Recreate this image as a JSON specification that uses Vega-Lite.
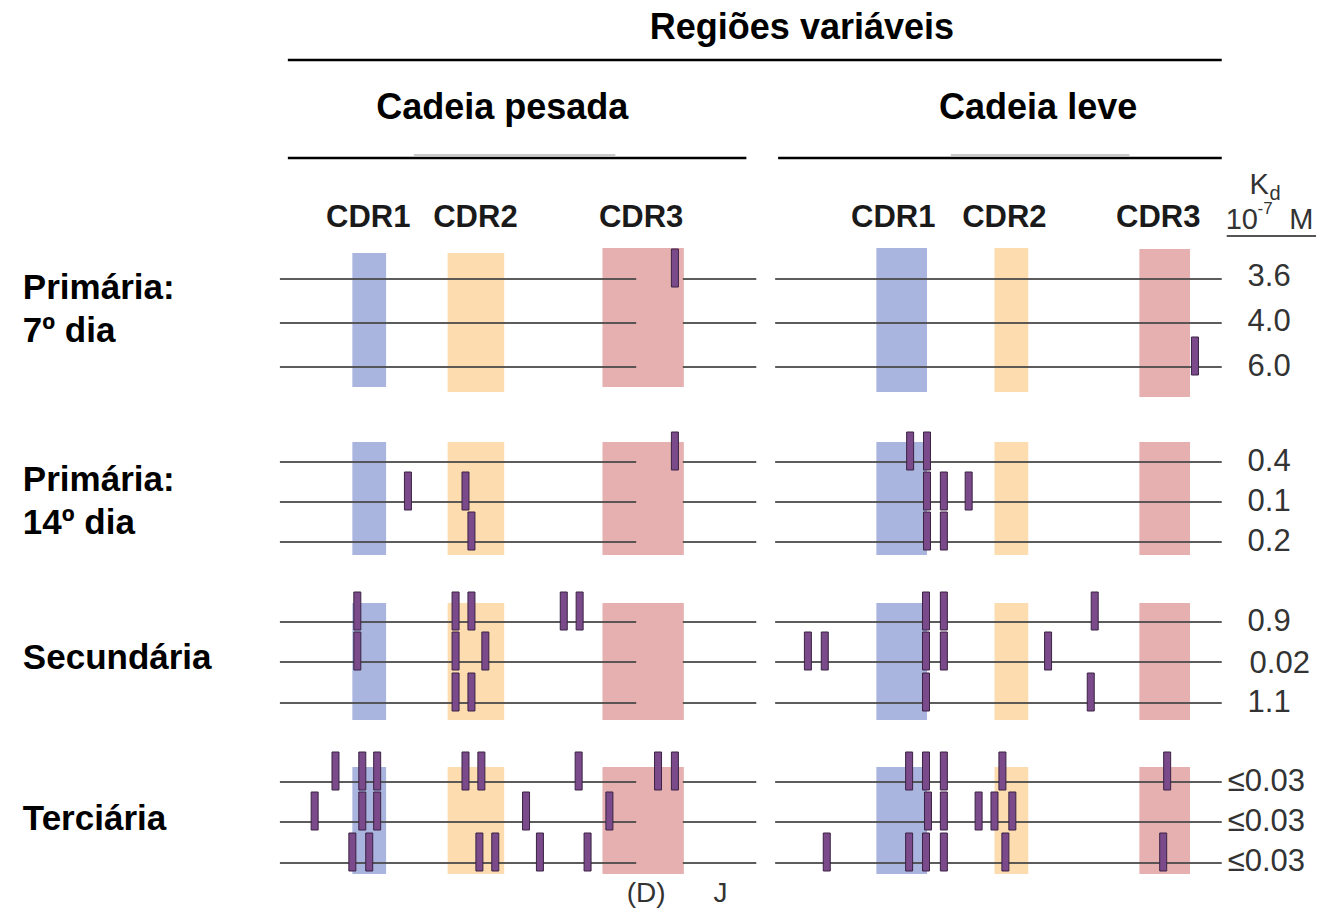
{
  "$schema": "https://vega.github.io/schema/vega-lite/v6.json",
  "width": 1325,
  "height": 910,
  "padding": 0,
  "autosize": {"type": "none"},
  "background": "white",
  "config": {"view": {"stroke": null}},
  "datasets": {
    "regions": [
      {"chain": "pesada", "region": "CDR1", "x1": 350, "x2": 384, "y1": 253, "y2": 387},
      {"chain": "pesada", "region": "CDR2", "x1": 446, "x2": 503, "y1": 253, "y2": 392},
      {"chain": "pesada", "region": "CDR3", "x1": 602, "x2": 684, "y1": 248, "y2": 387},
      {"chain": "leve", "region": "CDR1", "x1": 878, "x2": 929, "y1": 248, "y2": 392},
      {"chain": "leve", "region": "CDR2", "x1": 997, "x2": 1031, "y1": 248, "y2": 392},
      {"chain": "leve", "region": "CDR3", "x1": 1143, "x2": 1194, "y1": 249, "y2": 397},
      {"chain": "pesada", "region": "CDR1", "x1": 350, "x2": 384, "y1": 442, "y2": 555},
      {"chain": "pesada", "region": "CDR2", "x1": 446, "x2": 503, "y1": 442, "y2": 555},
      {"chain": "pesada", "region": "CDR3", "x1": 602, "x2": 684, "y1": 442, "y2": 555},
      {"chain": "leve", "region": "CDR1", "x1": 878, "x2": 929, "y1": 442, "y2": 555},
      {"chain": "leve", "region": "CDR2", "x1": 997, "x2": 1031, "y1": 442, "y2": 555},
      {"chain": "leve", "region": "CDR3", "x1": 1143, "x2": 1194, "y1": 442, "y2": 555},
      {"chain": "pesada", "region": "CDR1", "x1": 350, "x2": 384, "y1": 603, "y2": 720},
      {"chain": "pesada", "region": "CDR2", "x1": 446, "x2": 503, "y1": 603, "y2": 720},
      {"chain": "pesada", "region": "CDR3", "x1": 602, "x2": 684, "y1": 603, "y2": 720},
      {"chain": "leve", "region": "CDR1", "x1": 878, "x2": 929, "y1": 603, "y2": 720},
      {"chain": "leve", "region": "CDR2", "x1": 997, "x2": 1031, "y1": 603, "y2": 720},
      {"chain": "leve", "region": "CDR3", "x1": 1143, "x2": 1194, "y1": 603, "y2": 720},
      {"chain": "pesada", "region": "CDR1", "x1": 350, "x2": 384, "y1": 767, "y2": 874},
      {"chain": "pesada", "region": "CDR2", "x1": 446, "x2": 503, "y1": 767, "y2": 874},
      {"chain": "pesada", "region": "CDR3", "x1": 602, "x2": 684, "y1": 767, "y2": 874},
      {"chain": "leve", "region": "CDR1", "x1": 878, "x2": 929, "y1": 767, "y2": 874},
      {"chain": "leve", "region": "CDR2", "x1": 997, "x2": 1031, "y1": 767, "y2": 874},
      {"chain": "leve", "region": "CDR3", "x1": 1143, "x2": 1194, "y1": 767, "y2": 874}
    ],
    "seqlines": [
      {"x1": 277, "x2": 636, "y": 279}, {"x1": 683, "x2": 757, "y": 279}, {"x1": 776, "x2": 1226, "y": 279},
      {"x1": 277, "x2": 636, "y": 323}, {"x1": 683, "x2": 757, "y": 323}, {"x1": 776, "x2": 1226, "y": 323},
      {"x1": 277, "x2": 636, "y": 367}, {"x1": 683, "x2": 757, "y": 367}, {"x1": 776, "x2": 1226, "y": 367},
      {"x1": 277, "x2": 636, "y": 462}, {"x1": 683, "x2": 757, "y": 462}, {"x1": 776, "x2": 1226, "y": 462},
      {"x1": 277, "x2": 636, "y": 502}, {"x1": 683, "x2": 757, "y": 502}, {"x1": 776, "x2": 1226, "y": 502},
      {"x1": 277, "x2": 636, "y": 542}, {"x1": 683, "x2": 757, "y": 542}, {"x1": 776, "x2": 1226, "y": 542},
      {"x1": 277, "x2": 636, "y": 622}, {"x1": 683, "x2": 757, "y": 622}, {"x1": 776, "x2": 1226, "y": 622},
      {"x1": 277, "x2": 636, "y": 662}, {"x1": 683, "x2": 757, "y": 662}, {"x1": 776, "x2": 1226, "y": 662},
      {"x1": 277, "x2": 636, "y": 703}, {"x1": 683, "x2": 757, "y": 703}, {"x1": 776, "x2": 1226, "y": 703},
      {"x1": 277, "x2": 636, "y": 782}, {"x1": 683, "x2": 757, "y": 782}, {"x1": 776, "x2": 1226, "y": 782},
      {"x1": 277, "x2": 636, "y": 822}, {"x1": 683, "x2": 757, "y": 822}, {"x1": 776, "x2": 1226, "y": 822},
      {"x1": 277, "x2": 636, "y": 863}, {"x1": 683, "x2": 757, "y": 863}, {"x1": 776, "x2": 1226, "y": 863}
    ],
    "mutations": [
      {"pos": 675, "top": 249, "bottom": 287},
      {"pos": 675, "top": 432, "bottom": 470},
      {"pos": 406, "top": 472, "bottom": 510},
      {"pos": 464, "top": 472, "bottom": 510},
      {"pos": 470, "top": 512, "bottom": 550},
      {"pos": 355, "top": 592, "bottom": 630},
      {"pos": 454, "top": 592, "bottom": 630},
      {"pos": 470, "top": 592, "bottom": 630},
      {"pos": 563, "top": 592, "bottom": 630},
      {"pos": 579, "top": 592, "bottom": 630},
      {"pos": 355, "top": 632, "bottom": 670},
      {"pos": 454, "top": 632, "bottom": 670},
      {"pos": 484, "top": 632, "bottom": 670},
      {"pos": 454, "top": 673, "bottom": 711},
      {"pos": 470, "top": 673, "bottom": 711},
      {"pos": 333, "top": 752, "bottom": 790},
      {"pos": 360, "top": 752, "bottom": 790},
      {"pos": 375, "top": 752, "bottom": 790},
      {"pos": 464, "top": 752, "bottom": 790},
      {"pos": 480, "top": 752, "bottom": 790},
      {"pos": 578, "top": 752, "bottom": 790},
      {"pos": 658, "top": 752, "bottom": 790},
      {"pos": 675, "top": 752, "bottom": 790},
      {"pos": 312, "top": 792, "bottom": 830},
      {"pos": 360, "top": 792, "bottom": 830},
      {"pos": 375, "top": 792, "bottom": 830},
      {"pos": 525, "top": 792, "bottom": 830},
      {"pos": 609, "top": 792, "bottom": 830},
      {"pos": 350, "top": 833, "bottom": 871},
      {"pos": 367, "top": 833, "bottom": 871},
      {"pos": 478, "top": 833, "bottom": 871},
      {"pos": 494, "top": 833, "bottom": 871},
      {"pos": 539, "top": 833, "bottom": 871},
      {"pos": 587, "top": 833, "bottom": 871},
      {"pos": 1199, "top": 337, "bottom": 375},
      {"pos": 912, "top": 432, "bottom": 470},
      {"pos": 929, "top": 432, "bottom": 470},
      {"pos": 929, "top": 472, "bottom": 510},
      {"pos": 946, "top": 472, "bottom": 510},
      {"pos": 971, "top": 472, "bottom": 510},
      {"pos": 929, "top": 512, "bottom": 550},
      {"pos": 946, "top": 512, "bottom": 550},
      {"pos": 928, "top": 592, "bottom": 630},
      {"pos": 946, "top": 592, "bottom": 630},
      {"pos": 1098, "top": 592, "bottom": 630},
      {"pos": 809, "top": 632, "bottom": 670},
      {"pos": 826, "top": 632, "bottom": 670},
      {"pos": 928, "top": 632, "bottom": 670},
      {"pos": 946, "top": 632, "bottom": 670},
      {"pos": 1051, "top": 632, "bottom": 670},
      {"pos": 928, "top": 673, "bottom": 711},
      {"pos": 1094, "top": 673, "bottom": 711},
      {"pos": 911, "top": 752, "bottom": 790},
      {"pos": 928, "top": 752, "bottom": 790},
      {"pos": 946, "top": 752, "bottom": 790},
      {"pos": 1005, "top": 752, "bottom": 790},
      {"pos": 1171, "top": 752, "bottom": 790},
      {"pos": 930, "top": 792, "bottom": 830},
      {"pos": 946, "top": 792, "bottom": 830},
      {"pos": 981, "top": 792, "bottom": 830},
      {"pos": 997, "top": 792, "bottom": 830},
      {"pos": 1015, "top": 792, "bottom": 830},
      {"pos": 828, "top": 833, "bottom": 871},
      {"pos": 911, "top": 833, "bottom": 871},
      {"pos": 928, "top": 833, "bottom": 871},
      {"pos": 946, "top": 833, "bottom": 871},
      {"pos": 1008, "top": 833, "bottom": 871},
      {"pos": 1167, "top": 833, "bottom": 871}
    ],
    "headerlines": [
      {"x1": 285, "x2": 1226, "y": 60},
      {"x1": 285, "x2": 747, "y": 158},
      {"x1": 779, "x2": 1226, "y": 158}
    ],
    "faintlines": [
      {"x1": 412, "x2": 615, "y": 155},
      {"x1": 953, "x2": 1133, "y": 155}
    ],
    "kdline": [
      {"x1": 1231, "x2": 1321, "y": 236}
    ],
    "titles": [
      {"label": "Regiões variáveis", "x": 803, "y": 39},
      {"label": "Cadeia pesada", "x": 501, "y": 119},
      {"label": "Cadeia leve", "x": 1041, "y": 119}
    ],
    "rowlabels": [
      {"label": "Primária:", "x": 18, "y": 299},
      {"label": "7º dia", "x": 18, "y": 342},
      {"label": "Primária:", "x": 18, "y": 491},
      {"label": "14º dia", "x": 18, "y": 534},
      {"label": "Secundária", "x": 18, "y": 669},
      {"label": "Terciária", "x": 18, "y": 830}
    ],
    "cdrlabels": [
      {"label": "CDR1", "x": 366, "y": 227},
      {"label": "CDR2", "x": 474, "y": 227},
      {"label": "CDR3", "x": 641, "y": 227},
      {"label": "CDR1", "x": 895, "y": 227},
      {"label": "CDR2", "x": 1007, "y": 227},
      {"label": "CDR3", "x": 1162, "y": 227}
    ],
    "kd": [
      {"label": "3.6", "x": 1252, "y": 277},
      {"label": "4.0", "x": 1252, "y": 322},
      {"label": "6.0", "x": 1252, "y": 367},
      {"label": "0.4", "x": 1252, "y": 462},
      {"label": "0.1", "x": 1252, "y": 502},
      {"label": "0.2", "x": 1252, "y": 542},
      {"label": "0.9", "x": 1252, "y": 622},
      {"label": "0.02", "x": 1254, "y": 664},
      {"label": "1.1", "x": 1252, "y": 703},
      {"label": "≤0.03", "x": 1232, "y": 782},
      {"label": "≤0.03", "x": 1232, "y": 822},
      {"label": "≤0.03", "x": 1232, "y": 862}
    ],
    "kdhead": [
      {"label": "K", "x": 1254, "y": 194},
      {"label": "10", "x": 1230, "y": 229},
      {"label": "M", "x": 1294, "y": 229}
    ],
    "kdsub": [
      {"label": "d", "x": 1274, "y": 200}
    ],
    "kdsup": [
      {"label": "-7", "x": 1262, "y": 214}
    ],
    "segments": [
      {"label": "(D)", "x": 646, "y": 902},
      {"label": "J", "x": 721, "y": 902}
    ]
  },
  "layer": [
    {
      "data": {"name": "regions"},
      "mark": {"type": "rect"},
      "encoding": {
        "x": {"field": "x1", "type": "quantitative", "scale": {"domain": [0, 1325], "nice": false, "zero": false}, "axis": null},
        "x2": {"field": "x2"},
        "y": {"field": "y1", "type": "quantitative", "scale": {"domain": [0, 910], "nice": false, "zero": false, "reverse": true}, "axis": null},
        "y2": {"field": "y2"},
        "color": {"field": "region", "type": "nominal", "scale": {"domain": ["CDR1", "CDR2", "CDR3"], "range": ["#a9b5df", "#fddcb0", "#e6b0b0"]}, "legend": null}
      }
    },
    {
      "data": {"name": "seqlines"},
      "mark": {"type": "rule", "color": "#4a4a4a", "strokeWidth": 2, "opacity": 0.9},
      "encoding": {
        "x": {"field": "x1", "type": "quantitative", "axis": null},
        "x2": {"field": "x2"},
        "y": {"field": "y", "type": "quantitative", "axis": null}
      }
    },
    {
      "data": {"name": "headerlines"},
      "mark": {"type": "rule", "color": "#000000", "strokeWidth": 2.5},
      "encoding": {
        "x": {"field": "x1", "type": "quantitative", "axis": null},
        "x2": {"field": "x2"},
        "y": {"field": "y", "type": "quantitative", "axis": null}
      }
    },
    {
      "data": {"name": "faintlines"},
      "mark": {"type": "rule", "color": "#b8b8b8", "strokeWidth": 1.5},
      "encoding": {
        "x": {"field": "x1", "type": "quantitative", "axis": null},
        "x2": {"field": "x2"},
        "y": {"field": "y", "type": "quantitative", "axis": null}
      }
    },
    {
      "data": {"name": "kdline"},
      "mark": {"type": "rule", "color": "#555555", "strokeWidth": 2},
      "encoding": {
        "x": {"field": "x1", "type": "quantitative", "axis": null},
        "x2": {"field": "x2"},
        "y": {"field": "y", "type": "quantitative", "axis": null}
      }
    },
    {
      "data": {"name": "mutations"},
      "mark": {"type": "bar", "width": 7, "fill": "#7b4a8b", "stroke": "#3a2344", "strokeWidth": 1, "orient": "vertical"},
      "encoding": {
        "x": {"field": "pos", "type": "quantitative", "axis": null},
        "y": {"field": "top", "type": "quantitative", "axis": null},
        "y2": {"field": "bottom"}
      }
    },
    {
      "data": {"name": "titles"},
      "mark": {"type": "text", "font": "Liberation Sans", "fontWeight": "bold", "fontSize": 36, "align": "center", "baseline": "alphabetic", "color": "#000000"},
      "encoding": {
        "x": {"field": "x", "type": "quantitative", "axis": null},
        "y": {"field": "y", "type": "quantitative", "axis": null},
        "text": {"field": "label"}
      }
    },
    {
      "data": {"name": "rowlabels"},
      "mark": {"type": "text", "font": "Liberation Sans", "fontWeight": "bold", "fontSize": 35, "align": "left", "baseline": "alphabetic", "color": "#000000"},
      "encoding": {
        "x": {"field": "x", "type": "quantitative", "axis": null},
        "y": {"field": "y", "type": "quantitative", "axis": null},
        "text": {"field": "label"}
      }
    },
    {
      "data": {"name": "cdrlabels"},
      "mark": {"type": "text", "font": "Liberation Sans", "fontWeight": "bold", "fontSize": 31, "align": "center", "baseline": "alphabetic", "color": "#1a1a1a"},
      "encoding": {
        "x": {"field": "x", "type": "quantitative", "axis": null},
        "y": {"field": "y", "type": "quantitative", "axis": null},
        "text": {"field": "label"}
      }
    },
    {
      "data": {"name": "kd"},
      "mark": {"type": "text", "font": "Liberation Sans", "fontSize": 31, "align": "left", "baseline": "middle", "color": "#333333"},
      "encoding": {
        "x": {"field": "x", "type": "quantitative", "axis": null},
        "y": {"field": "y", "type": "quantitative", "axis": null},
        "text": {"field": "label"}
      }
    },
    {
      "data": {"name": "kdhead"},
      "mark": {"type": "text", "font": "Liberation Sans", "fontSize": 29, "align": "left", "baseline": "alphabetic", "color": "#333333"},
      "encoding": {
        "x": {"field": "x", "type": "quantitative", "axis": null},
        "y": {"field": "y", "type": "quantitative", "axis": null},
        "text": {"field": "label"}
      }
    },
    {
      "data": {"name": "kdsub"},
      "mark": {"type": "text", "font": "Liberation Sans", "fontSize": 20, "align": "left", "baseline": "alphabetic", "color": "#333333"},
      "encoding": {
        "x": {"field": "x", "type": "quantitative", "axis": null},
        "y": {"field": "y", "type": "quantitative", "axis": null},
        "text": {"field": "label"}
      }
    },
    {
      "data": {"name": "kdsup"},
      "mark": {"type": "text", "font": "Liberation Sans", "fontSize": 17, "align": "left", "baseline": "alphabetic", "color": "#333333"},
      "encoding": {
        "x": {"field": "x", "type": "quantitative", "axis": null},
        "y": {"field": "y", "type": "quantitative", "axis": null},
        "text": {"field": "label"}
      }
    },
    {
      "data": {"name": "segments"},
      "mark": {"type": "text", "font": "Liberation Sans", "fontSize": 28, "align": "center", "baseline": "alphabetic", "color": "#333333"},
      "encoding": {
        "x": {"field": "x", "type": "quantitative", "axis": null},
        "y": {"field": "y", "type": "quantitative", "axis": null},
        "text": {"field": "label"}
      }
    }
  ]
}
